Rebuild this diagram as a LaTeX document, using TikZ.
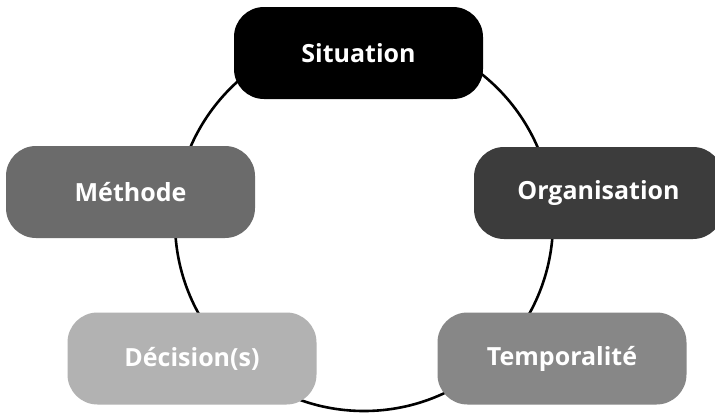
\documentclass[tikz,border=0pt]{standalone}
\usepackage{fontspec}
\setmainfont{Open Sans}
\begin{document}
\begin{tikzpicture}[x=1pt,y=-1pt,
  stage/.style={rectangle, rounded corners=30pt, minimum width=249pt, minimum height=92pt,
    inner sep=0pt, text=white, font=\fontsize{25}{29}\selectfont\bfseries},
  ring/.style={circle, draw=black, line width=2.6pt, minimum size=378pt, inner sep=0pt}]
\useasboundingbox (0,0) rectangle (715,413);
\clip (0,0) rectangle (715,413);
\fill[white] (0,0) rectangle (715,413);
\node[ring] (cycle) at (364,222) {};
\node[stage, fill=black] (situation) at (358.5,53) {Situation};
\node[stage, fill={rgb,255:red,60;green,60;blue,60}] (organisation) at (598.5,193) {Organisation};
\node[stage, fill={rgb,255:red,135;green,135;blue,135}] (temporalite) at (562,358.5) {Temporalité};
\node[stage, fill={rgb,255:red,178;green,178;blue,178}] (decision) at (192,358.5) {Décision(s)};
\node[stage, fill={rgb,255:red,107;green,107;blue,107}] (methode) at (130.5,192) {Méthode};
\end{tikzpicture}
\end{document}
